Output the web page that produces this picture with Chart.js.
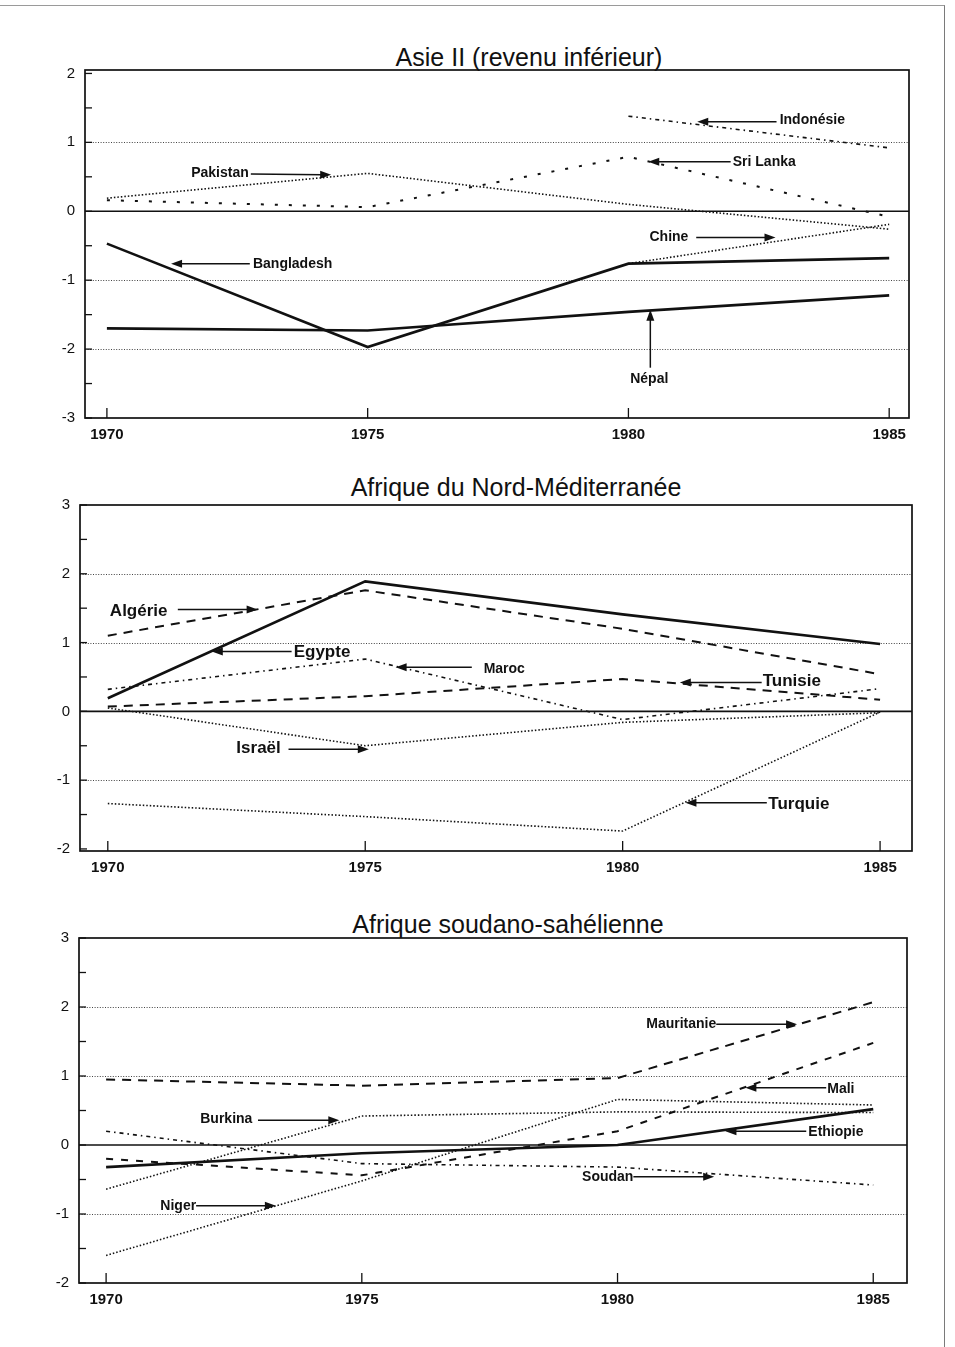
<!DOCTYPE html>
<html>
<head>
<meta charset="utf-8">
<script src="https://cdn.jsdelivr.net/npm/chart.js@4.4.1/dist/chart.umd.min.js"></script>
<style>
  body { margin: 0; background: #fff; width: 955px; height: 1347px; position: relative; overflow: hidden;
         font-family: 'Liberation Sans', Arial, sans-serif; }
  .page { position: absolute; left: 0; top: 5px; width: 944px; height: 1342px;
          border-top: 1px solid #9a9a9a; border-right: 1px solid #7a7a7a; }
  canvas { position: absolute; }
  .title { position: absolute; font-size: 25px; color: #111; white-space: nowrap; transform: translateX(-50%); }
</style>
</head>
<body>
<div class="page"></div>
<div class="title" style="left:529px;top:43px">Asie II (revenu inférieur)</div>
<div class="title" style="left:516px;top:473px">Afrique du Nord-Méditerranée</div>
<div class="title" style="left:508px;top:910px">Afrique soudano-sahélienne</div>
<canvas id="asie"></canvas>
<canvas id="nord"></canvas>
<canvas id="sahel"></canvas>
<script>
// Écarts par pays, 1970-1985
const years = [1970, 1975, 1980, 1985];

// Asie II (revenu inférieur)
const asieTicks = [-3, -2, -1, 0, 1, 2];
const bangladesh = [-0.47, -1.97, -0.76, -0.68];
const nepal = [-1.70, -1.73, -1.46, -1.22];
const pakistan = [0.19, 0.55, 0.10, -0.26];
const sriLanka = [0.16, 0.06, 0.79, -0.08];
const indonesie = [null, null, 1.38, 0.92];
const chine = [null, null, -0.76, -0.19];

// Afrique du Nord-Méditerranée
const nordTicks = [-2, -1, 0, 1, 2, 3];
const egypte = [0.19, 1.89, 1.41, 0.98];
const algerie = [1.10, 1.76, 1.20, 0.54];
const tunisie = [0.07, 0.22, 0.47, 0.17];
const maroc = [0.32, 0.76, -0.12, 0.33];
const israel = [0.05, -0.50, -0.16, -0.02];
const turquie = [-1.34, -1.53, -1.74, -0.01];

// Afrique soudano-sahélienne
const sahelTicks = [-2, -1, 0, 1, 2, 3];
const mauritanie = [0.95, 0.86, 0.97, 2.07];
const mali = [-0.20, -0.44, 0.20, 1.48];
const ethiopie = [-0.32, -0.12, 0.0, 0.52];
const burkina = [-0.64, 0.42, 0.48, 0.47];
const niger = [-1.60, -0.52, 0.66, 0.58];
const soudan = [0.20, -0.27, -0.32, -0.58];

// Styles de trait
const SOLID = { borderWidth: 2.6 };
const DASHED = { borderWidth: 2, borderDash: [9, 7] };
const DOTTED = { borderWidth: 1.6, borderDash: [1.5, 2] };
const DASHDOT = { borderWidth: 1.6, borderDash: [4, 4, 1.5, 4] };
const SPARSE = { borderWidth: 2, borderDash: [3, 11] };

const NOTE_FONT = "bold 14px 'Liberation Sans', Arial, sans-serif";
const BIG_FONT = "bold 17px 'Liberation Sans', Arial, sans-serif";

const pts = vals => years.map((yr, i) => ({ x: yr, y: vals[i] }));

function serie(label, vals, style) {
  return { label, data: pts(vals), borderColor: '#111', pointRadius: 0, fill: false, tension: 0, ...style };
}

function drawArrow(ctx, x1, y1, x2, y2) {
  const ang = Math.atan2(y2 - y1, x2 - x1);
  const len = 11, w = 4;
  ctx.beginPath();
  ctx.moveTo(x1, y1);
  ctx.lineTo(x2 - Math.cos(ang) * len * 0.8, y2 - Math.sin(ang) * len * 0.8);
  ctx.stroke();
  ctx.beginPath();
  ctx.moveTo(x2, y2);
  ctx.lineTo(x2 - Math.cos(ang) * len - Math.sin(ang) * w, y2 - Math.sin(ang) * len + Math.cos(ang) * w);
  ctx.lineTo(x2 - Math.cos(ang) * len + Math.sin(ang) * w, y2 - Math.sin(ang) * len - Math.cos(ang) * w);
  ctx.closePath();
  ctx.fill();
}

// Grille pointillée, ligne zéro, cadre, graduations internes et étiquettes fléchées
const panelDecor = {
  id: 'panelDecor',
  beforeDatasetsDraw(chart) {
    const { ctx, chartArea: a, scales: { y } } = chart;
    const opts = chart.options.plugins.panelDecor;
    ctx.save();
    ctx.strokeStyle = '#444';
    ctx.lineWidth = 1.2;
    ctx.setLineDash([1, 1.6]);
    opts.ticks.forEach(v => {
      if (v === 0) return;
      const py = Math.round(y.getPixelForValue(v)) + 0.5;
      if (py < a.top + 4 || py > a.bottom - 4) return;
      ctx.beginPath();
      ctx.moveTo(a.left, py);
      ctx.lineTo(a.right, py);
      ctx.stroke();
    });
    ctx.setLineDash([]);
    ctx.strokeStyle = '#111';
    ctx.lineWidth = 1.6;
    const y0 = y.getPixelForValue(0);
    ctx.beginPath();
    ctx.moveTo(a.left, y0);
    ctx.lineTo(a.right, y0);
    ctx.stroke();
    ctx.restore();
  },
  afterDraw(chart) {
    const { ctx, chartArea: a, scales: { x, y } } = chart;
    const opts = chart.options.plugins.panelDecor;
    ctx.save();
    ctx.strokeStyle = '#111';
    ctx.fillStyle = '#111';
    ctx.lineWidth = 1.7;
    ctx.strokeRect(a.left, a.top, a.right - a.left, a.bottom - a.top);
    ctx.lineWidth = 1.3;
    y.ticks.forEach(t => {
      const py = y.getPixelForValue(t.value);
      ctx.beginPath();
      ctx.moveTo(a.left, py);
      ctx.lineTo(a.left + 7, py);
      ctx.stroke();
    });
    x.ticks.forEach(t => {
      const px = x.getPixelForValue(t.value);
      ctx.beginPath();
      ctx.moveTo(px, a.bottom);
      ctx.lineTo(px, a.bottom - 10);
      ctx.stroke();
    });
    // Étiquettes des pays
    ctx.lineWidth = 1.5;
    ctx.textBaseline = 'middle';
    opts.notes.forEach(n => {
      ctx.font = n.font || NOTE_FONT;
      ctx.textAlign = n.align;
      ctx.fillText(n.text, x.getPixelForValue(n.at[0]), y.getPixelForValue(n.at[1]));
      drawArrow(ctx,
        x.getPixelForValue(n.from[0]), y.getPixelForValue(n.from[1]),
        x.getPixelForValue(n.to[0]), y.getPixelForValue(n.to[1]));
    });
    ctx.restore();
  }
};

function makePanel(id, box, xr, yr, yTicks, datasets, notes) {
  const padTop = 10, padRight = 6, axisW = 50, axisH = 34;
  const canvas = document.getElementById(id);
  canvas.width = box.right - box.left + axisW + padRight;
  canvas.height = box.bottom - box.top + padTop + axisH;
  canvas.style.left = (box.left - axisW) + 'px';
  canvas.style.top = (box.top - padTop) + 'px';

  // graduations principales + intermédiaires (demi-unités)
  const allTicks = [];
  yTicks.forEach(v => { allTicks.push(v); if (v + 0.5 < yr[1]) allTicks.push(v + 0.5); });

  return new Chart(canvas, {
    type: 'line',
    data: { datasets },
    options: {
      responsive: false,
      animation: false,
      layout: { padding: { top: padTop, right: padRight, left: 0, bottom: 0 } },
      plugins: {
        legend: { display: false },
        tooltip: { enabled: false },
        panelDecor: { notes, ticks: yTicks }
      },
      scales: {
        x: {
          type: 'linear',
          min: xr[0],
          max: xr[1],
          afterBuildTicks: s => { s.ticks = years.map(v => ({ value: v })); },
          afterFit: s => { s.height = axisH; s.paddingLeft = 0; s.paddingRight = 0; },
          grid: { display: false, drawTicks: false },
          border: { display: false },
          ticks: {
            callback: v => String(v),
            color: '#111',
            autoSkip: false,
            maxRotation: 0,
            padding: 8,
            font: { family: "'Liberation Sans', Arial, sans-serif", size: 15, weight: 'bold' }
          }
        },
        y: {
          min: yr[0],
          max: yr[1],
          afterBuildTicks: s => { s.ticks = allTicks.map(v => ({ value: v })); },
          afterFit: s => { s.width = axisW; s.paddingTop = 0; s.paddingBottom = 0; },
          grid: { display: false, drawTicks: false },
          border: { display: false },
          ticks: {
            callback: v => (Number.isInteger(v) ? String(v) : ''),
            color: '#111',
            padding: 10,
            font: { family: "'Liberation Sans', Arial, sans-serif", size: 15 }
          }
        }
      }
    },
    plugins: [panelDecor]
  });
}

makePanel('asie',
  { left: 85, top: 70, right: 909, bottom: 418 },
  [1969.58, 1985.38], [-3, 2.05], asieTicks,
  [
    serie('Bangladesh', bangladesh, SOLID),
    serie('Népal', nepal, SOLID),
    serie('Pakistan', pakistan, DOTTED),
    serie('Sri Lanka', sriLanka, SPARSE),
    serie('Indonésie', indonesie, DASHDOT),
    serie('Chine', chine, DOTTED)
  ],
  [
    { text: 'Indonésie', at: [1982.9, 1.32], align: 'left', from: [1982.84, 1.30], to: [1981.32, 1.30] },
    { text: 'Sri Lanka', at: [1982.0, 0.71], align: 'left', from: [1981.96, 0.72], to: [1980.38, 0.72] },
    { text: 'Pakistan', at: [1972.72, 0.55], align: 'right', from: [1972.76, 0.54], to: [1974.3, 0.53] },
    { text: 'Chine', at: [1981.15, -0.38], align: 'right', from: [1981.3, -0.38], to: [1982.82, -0.38] },
    { text: 'Bangladesh', at: [1972.8, -0.77], align: 'left', from: [1972.74, -0.76], to: [1971.23, -0.76] },
    { text: 'Népal', at: [1980.4, -2.43], align: 'center', from: [1980.42, -2.27], to: [1980.42, -1.43] }
  ]);

makePanel('nord',
  { left: 80, top: 505, right: 912, bottom: 851 },
  [1969.46, 1985.62], [-2.03, 3.0], nordTicks,
  [
    serie('Egypte', egypte, SOLID),
    serie('Algérie', algerie, DASHED),
    serie('Tunisie', tunisie, DASHED),
    serie('Maroc', maroc, DASHDOT),
    serie('Israël', israel, DOTTED),
    serie('Turquie', turquie, DOTTED)
  ],
  [
    { text: 'Algérie', at: [1970.04, 1.45], align: 'left', font: BIG_FONT, from: [1971.36, 1.48], to: [1972.91, 1.48] },
    { text: 'Egypte', at: [1973.61, 0.86], align: 'left', font: BIG_FONT, from: [1973.57, 0.87], to: [1972.02, 0.87] },
    { text: 'Maroc', at: [1977.3, 0.62], align: 'left', from: [1977.07, 0.64], to: [1975.59, 0.64] },
    { text: 'Tunisie', at: [1982.72, 0.43], align: 'left', font: BIG_FONT, from: [1982.7, 0.42], to: [1981.11, 0.42] },
    { text: 'Israël', at: [1973.36, -0.54], align: 'right', font: BIG_FONT, from: [1973.51, -0.55], to: [1975.07, -0.55] },
    { text: 'Turquie', at: [1982.83, -1.35], align: 'left', font: BIG_FONT, from: [1982.8, -1.33], to: [1981.22, -1.33] }
  ]);

makePanel('sahel',
  { left: 79, top: 938, right: 907, bottom: 1283 },
  [1969.47, 1985.66], [-2, 3.0], sahelTicks,
  [
    serie('Mauritanie', mauritanie, DASHED),
    serie('Mali', mali, { borderWidth: 2, borderDash: [7, 8] }),
    serie('Ethiopie', ethiopie, SOLID),
    serie('Burkina', burkina, DOTTED),
    serie('Niger', niger, DOTTED),
    serie('Soudan', soudan, DASHDOT)
  ],
  [
    { text: 'Mauritanie', at: [1981.93, 1.75], align: 'right', from: [1981.93, 1.75], to: [1983.51, 1.75] },
    { text: 'Mali', at: [1984.1, 0.81], align: 'left', from: [1984.08, 0.83], to: [1982.5, 0.83] },
    { text: 'Burkina', at: [1972.86, 0.38], align: 'right', from: [1972.97, 0.36], to: [1974.56, 0.36] },
    { text: 'Ethiopie', at: [1983.73, 0.19], align: 'left', from: [1983.69, 0.2], to: [1982.11, 0.2] },
    { text: 'Soudan', at: [1980.31, -0.46], align: 'right', from: [1980.31, -0.46], to: [1981.89, -0.46] },
    { text: 'Niger', at: [1971.76, -0.88], align: 'right', from: [1971.76, -0.88], to: [1973.32, -0.88] }
  ]);
</script>
</body>
</html>
